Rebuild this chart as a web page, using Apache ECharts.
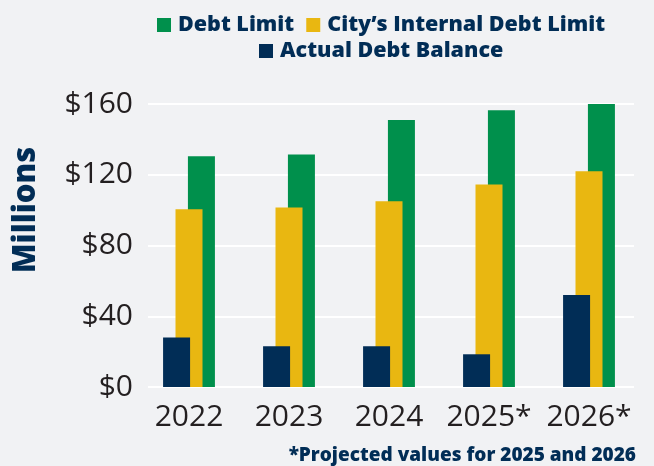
<!DOCTYPE html>
<html>
<head>
<meta charset="utf-8">
<script src="https://cdn.jsdelivr.net/npm/echarts@6/dist/echarts.min.js"></script>
<style>
  html, body { margin: 0; padding: 0; background: #f1f2f4; }
  #chart { width: 654px; height: 466px; }
</style>
</head>
<body>
<div id="chart"></div>
<script>
const years = ['2022', '2023', '2024', '2025*', '2026*'];
const debtLimit = [130.5, 131.5, 151, 156.5, 160];
const internalLimit = [100.5, 101.5, 105, 114.5, 122];
const actualBalance = [28, 23, 23, 18.5, 52];
const yTicks = [0, 40, 80, 120, 160];

const navy = '#012d56';
const legendText = { color: navy, fontWeight: 800, fontSize: 21.5, fontFamily: 'Open Sans', padding: [0, 0, 0, 2] };
const chart = echarts.init(document.getElementById('chart'));

const option = {
  backgroundColor: '#f1f2f4',
  textStyle: { fontFamily: 'Open Sans' },
  legend: [
    {
      data: ['Debt Limit', 'City\u2019s Internal Debt Limit'],
      left: 157, top: 14, padding: 0,
      icon: 'rect', itemWidth: 14, itemHeight: 14, itemGap: 12,
      textStyle: legendText
    },
    {
      data: ['Actual Debt Balance'],
      left: 259, top: 40, padding: 0,
      icon: 'rect', itemWidth: 14, itemHeight: 14,
      textStyle: legendText
    }
  ],
  grid: [
    { left: 148, width: 486, top: 104, bottom: 79 },
    { left: 139, width: 500, top: 104, bottom: 79 }
  ],
  xAxis: [
    { gridIndex: 0, type: 'category', data: years, show: false },
    {
      gridIndex: 1, type: 'category', data: years,
      axisLine: { show: false }, axisTick: { show: false },
      axisLabel: { interval: 0, color: '#231f20', fontSize: 30, margin: 15, fontFamily: 'Open Sans' }
    }
  ],
  yAxis: [
    {
      gridIndex: 0, type: 'value', min: yTicks[0], max: yTicks[yTicks.length - 1], interval: 40,
      axisLine: { show: false }, axisTick: { show: false },
      axisLabel: { color: '#231f20', fontSize: 30, margin: 15, formatter: v => '$' + v, fontFamily: 'Open Sans' },
      splitLine: { lineStyle: { color: '#ffffff', width: 2 } }
    },
    {
      gridIndex: 1, type: 'value', min: yTicks[0], max: yTicks[yTicks.length - 1], interval: 40,
      show: false
    }
  ],
  graphic: [
    {
      type: 'text', x: 26, y: 210, rotation: Math.PI / 2,
      style: { text: 'Millions', fill: navy, font: '800 31px "Open Sans"', align: 'center', verticalAlign: 'middle' }
    },
    {
      type: 'text', x: 636, y: 456,
      style: { text: '*Projected values for 2025 and 2026', fill: navy, font: '800 19px "Open Sans"', align: 'right', verticalAlign: 'middle' }
    }
  ],
  series: [
    {
      name: 'Actual Debt Balance', type: 'bar', xAxisIndex: 1, yAxisIndex: 1,
      data: actualBalance, barWidth: 27, barGap: '-54%', z: 4,
      itemStyle: { color: navy }
    },
    {
      name: 'City\u2019s Internal Debt Limit', type: 'bar', xAxisIndex: 1, yAxisIndex: 1,
      data: internalLimit, barWidth: 27, barGap: '-54%', z: 3,
      itemStyle: { color: '#e9b711' }
    },
    {
      name: 'Debt Limit', type: 'bar', xAxisIndex: 1, yAxisIndex: 1,
      data: debtLimit, barWidth: 27, barGap: '-54%', z: 2,
      itemStyle: { color: '#00904c' }
    }
  ]
};

chart.setOption(option);
</script>
</body>
</html>
